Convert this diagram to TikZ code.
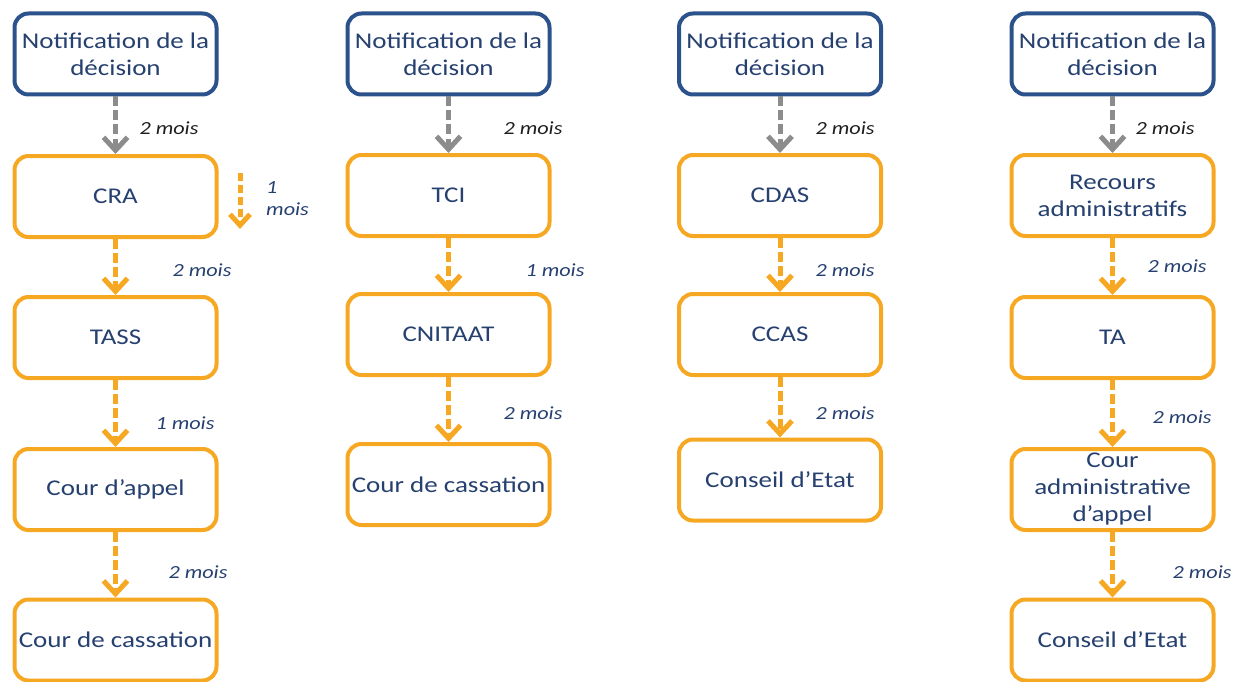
\documentclass[tikz,border=0pt]{standalone}
\usepackage{fontspec}
\setmainfont{Carlito}[FakeStretch=1.2]
\usetikzlibrary{arrows.meta}

\definecolor{navy}{RGB}{38,64,112}
\definecolor{boxblue}{RGB}{44,82,140}
\definecolor{amber}{RGB}{247,168,35}
\definecolor{arrowgray}{RGB}{140,140,140}
\definecolor{labelblack}{RGB}{30,30,30}

\tikzset{
  box/.style={rectangle, rounded corners=14pt, line width=4pt, fill=white,
    minimum width=202pt, minimum height=81pt, align=center, text=navy,
    font=\fontsize{22.5}{27}\selectfont, inner sep=2pt},
  startbox/.style={box, draw=boxblue},
  stagebox/.style={box, draw=amber},
  flow/.style={line width=5pt, dash pattern=on 10pt off 4pt,
    -{Straight Barb[length=13pt, width=24pt, line width=5pt]}},
  firstflow/.style={flow, draw=arrowgray},
  nextflow/.style={flow, draw=amber},
  delay/.style={font=\fontsize{18.5}{22}\selectfont\itshape, text=navy, inner sep=0pt},
  firstdelay/.style={delay, text=labelblack}
}

\begin{document}
\begin{tikzpicture}[x=1pt, y=-1pt]
\useasboundingbox (0,0) rectangle (1244,682);

% Column 1: sécurité sociale
\node[startbox] (n1) at (115.5,54) {Notification de la\\décision};
\node[stagebox] (cra) at (115.5,196.5) {CRA};
\node[stagebox] (tass) at (115.5,337.5) {TASS};
\node[stagebox] (ca1) at (115.5,489.5) {Cour d’appel};
\node[stagebox] (cc1) at (115.5,640) {Cour de cassation};
\draw[firstflow] (n1) -- (cra);
\draw[nextflow] (cra) -- (tass);
\draw[nextflow] (tass) -- (ca1);
\draw[nextflow] (ca1) -- (cc1);
\node[firstdelay] at (169,128) {2 mois};
\node[delay] at (202,270) {2 mois};
\node[delay] at (185,423) {1 mois};
\node[delay] at (198,572) {2 mois};
\coordinate (craA) at (240,173);
\coordinate (craB) at (240,229);
\draw[nextflow, dash pattern=on 8pt off 4pt,
  -{Straight Barb[length=11pt, width=20pt, line width=5pt]}] (craA) -- (craB);
\node[delay, align=left, anchor=west] at (266,199) {1\\mois};

% Column 2: incapacité
\node[startbox] (n2) at (448.5,54) {Notification de la\\décision};
\node[stagebox] (tci) at (448.5,195.5) {TCI};
\node[stagebox] (cni) at (448.5,334.5) {CNITAAT};
\node[stagebox] (cc2) at (448.5,484.5) {Cour de cassation};
\draw[firstflow] (n2) -- (tci);
\draw[nextflow] (tci) -- (cni);
\draw[nextflow] (cni) -- (cc2);
\node[firstdelay] at (533,128) {2 mois};
\node[delay] at (555,270) {1 mois};
\node[delay] at (533,413) {2 mois};

% Column 3: aide sociale
\node[startbox] (n3) at (780,54) {Notification de la\\décision};
\node[stagebox] (cdas) at (780,195.5) {CDAS};
\node[stagebox] (ccas) at (780,334.5) {CCAS};
\node[stagebox] (ce3) at (780,480) {Conseil d’Etat};
\draw[firstflow] (n3) -- (cdas);
\draw[nextflow] (cdas) -- (ccas);
\draw[nextflow] (ccas) -- (ce3);
\node[firstdelay] at (845,128) {2 mois};
\node[delay] at (845,270) {2 mois};
\node[delay] at (845,413) {2 mois};

% Column 4: juridiction administrative
\node[startbox] (n4) at (1112.5,54) {Notification de la\\décision};
\node[stagebox] (ra) at (1112.5,195.5) {Recours\\administratifs};
\node[stagebox] (ta) at (1112.5,337.5) {TA};
\node[stagebox] (caa) at (1112.5,489.5) {Cour\\administrative\\d’appel};
\node[stagebox] (ce4) at (1112.5,640) {Conseil d’Etat};
\draw[firstflow] (n4) -- (ra);
\draw[nextflow] (ra) -- (ta);
\draw[nextflow] (ta) -- (caa);
\draw[nextflow] (caa) -- (ce4);
\node[firstdelay] at (1165,128) {2 mois};
\node[delay] at (1177,266) {2 mois};
\node[delay] at (1182,417) {2 mois};
\node[delay] at (1202,572) {2 mois};
\end{tikzpicture}
\end{document}
